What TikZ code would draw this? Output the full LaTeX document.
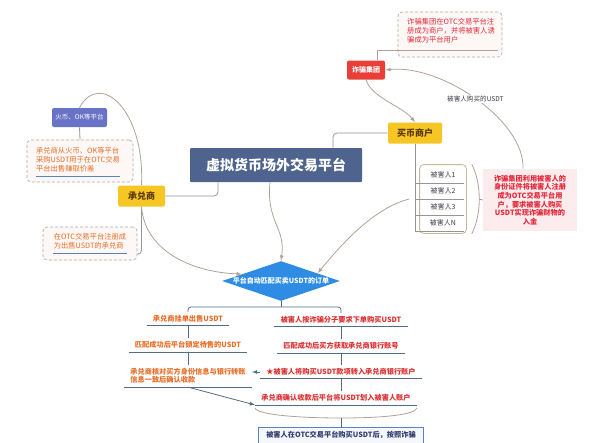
\documentclass[tikz,border=0pt]{standalone}
\usepackage{fontspec}
\setmainfont{Noto Sans CJK SC}
\usetikzlibrary{shapes.geometric,fit}

\definecolor{platblue}{RGB}{78,100,143}
\definecolor{fraudred}{RGB}{232,64,56}
\definecolor{tagyellow}{RGB}{246,198,36}
\definecolor{tagbrown}{RGB}{90,55,10}
\definecolor{tagpurple}{RGB}{104,114,198}
\definecolor{matchblue}{RGB}{46,140,228}
\definecolor{linkgray}{RGB}{150,150,150}
\definecolor{linktan}{RGB}{178,162,150}
\definecolor{notegray}{RGB}{170,170,170}
\definecolor{notefill}{RGB}{253,248,245}
\definecolor{noteorange}{RGB}{232,108,40}
\definecolor{notered}{RGB}{228,40,58}
\definecolor{pinkfill}{RGB}{253,236,238}
\definecolor{groupsand}{RGB}{205,180,154}
\definecolor{darktext}{RGB}{60,60,70}
\definecolor{flowslate}{RGB}{80,108,135}
\definecolor{floworange}{RGB}{232,110,40}
\definecolor{flowred}{RGB}{218,48,50}
\definecolor{flowblue}{RGB}{90,130,190}
\definecolor{finalfill}{RGB}{244,247,251}
\definecolor{finaltext}{RGB}{50,60,110}

\begin{document}
\begin{tikzpicture}[
 x=1pt,y=-1pt,
 thick,
 >={latex},
 align=center,
 inner sep=1mm,
 main/.style={rectangle,rounded corners=1pt,fill=platblue,text=white,minimum width=172pt,minimum height=34pt,font=\bfseries\fontsize{14}{16}\selectfont},
 redtag/.style={rectangle,rounded corners=2pt,fill=fraudred,text=white,minimum width=38pt,minimum height=19pt,inner sep=0pt,font=\bfseries\fontsize{7}{8}\selectfont},
 yellowtag/.style={rectangle,rounded corners=2pt,fill=tagyellow,text=tagbrown,minimum height=21pt,inner sep=0pt,font=\bfseries\fontsize{9}{10}\selectfont},
 purpletag/.style={rectangle,rounded corners=2pt,fill=tagpurple,text=white,minimum width=55pt,minimum height=19pt,inner sep=0pt,font=\fontsize{6.5}{7.5}\selectfont},
 notebox/.style={draw=notegray,densely dashed,line width=0.6pt,rounded corners=4pt,fill=notefill},
 notetext/.style={align=left,inner sep=0pt,font=\fontsize{7.3}{9}\selectfont},
 pinknote/.style={rectangle,fill=pinkfill,text=notered,minimum width=94pt,minimum height=62pt,inner sep=2pt,font=\bfseries\fontsize{7.2}{8.7}\selectfont},
 victim/.style={rectangle,minimum width=42pt,minimum height=16pt,inner sep=0pt,text=darktext,font=\fontsize{7}{8}\selectfont},
 victimgroup/.style={draw=groupsand,rounded corners=4pt,inner sep=2pt},
 decision/.style={diamond,aspect=2.95,fill=matchblue,text=white,inner sep=0pt,minimum width=118pt,minimum height=40pt,font=\bfseries\fontsize{7}{8}\selectfont},
 flowleft/.style={text=floworange,inner xsep=6pt,inner ysep=3pt,font=\bfseries\fontsize{7.2}{8.4}\selectfont},
 flowright/.style={flowleft,text=flowred},
 final/.style={draw=flowblue,fill=finalfill,text=finaltext,anchor=north,inner xsep=8pt,inner ysep=4pt,text depth=12pt,font=\bfseries\fontsize{7.2}{8.4}\selectfont},
 conn/.style={draw=linkgray,rounded corners=4pt},
 arc-link/.style={draw=linktan},
 flowline/.style={draw=flowslate},
 noteline/.style={draw=flowblue},
 lbl/.style={fill=white,inner sep=1pt,text=darktext,font=\fontsize{6.6}{7.5}\selectfont}
]
\useasboundingbox (0,0) rectangle (600,442);
\fill[white] (0,0) rectangle (600,442);

\node (platform-box) [main] at (276,165) {虚拟货币场外交易平台};
\node (fraud-box) [redtag] at (366,70) {诈骗集团};
\node (buyer-box) [yellowtag,minimum width=54pt] at (415,133) {买币商户};
\node (acceptor-box) [yellowtag,minimum width=47pt] at (141.5,196) {承兑商};
\node (exchange-box) [purpletag] at (79.5,117.5) {火币、OK等平台};

\node (fraud-note) [notebox,minimum width=104pt,minimum height=45pt] at (450,34.5) {};
\node (fraud-text) [notetext,text=notered] at (451,31) {诈骗集团在OTC交易平台注\\册成为商户，并将被害人诱\\骗成为平台用户};
\node (source-note) [notebox,minimum width=106pt,minimum height=42pt] at (80,161) {};
\node (source-text) [notetext,text=noteorange] at (78,160) {承兑商从火币、OK等平台\\采购USDT用于在OTC交易\\平台出售赚取价差};
\node (register-note) [notebox,minimum width=94pt,minimum height=33pt] at (90,243.5) {};
\node (register-text) [notetext,text=noteorange] at (90,241.5) {在OTC交易平台注册成\\为出售USDT的承兑商};

\foreach \lab [count=\k] in {1,2,3,N}
  \node (victim-\k) [victim] at (443,159+16*\k) {被害人\lab};
\node (victim-group) [victimgroup,fit=(victim-1)(victim-4)] {};
\node (victim-note) [pinknote] at (530,200) {诈骗集团利用被害人的\\身份证件将被害人注册\\成为OTC交易平台用\\户，要求被害人购买\\USDT实现诈骗财物的\\入金};

\node (match-box) [decision] at (281,281) {平台自动匹配买卖USDT的订单};

\node (left-1) [flowleft] at (188,319) {承兑商挂单出售USDT};
\node (left-2) [flowleft] at (188,345) {匹配成功后平台锁定待售的USDT};
\node (left-3) [flowleft,align=left] at (188,376) {承兑商核对买方身份信息与银行转账\\信息一致后确认收款};
\node (right-1) [flowright] at (341,320) {被害人按诈骗分子要求下单购买USDT};
\node (right-2) [flowright] at (341,346) {匹配成功后买方获取承兑商银行账号};
\node (right-3) [flowright] at (341,372) {★被害人将购买USDT款项转入承兑商银行账户};
\node (right-4) [flowright] at (336,398) {承兑商确认收款后平台将USDT划入被害人账户};
\node (final-box) [final] at (341,427) {被害人在OTC交易平台购买USDT后，按照诈骗};

\draw[arc-link] ([xshift=11pt]fraud-box.north) |- ([shift={(-4pt,7pt)}]fraud-note.south east);
\draw[arc-link,->] (fraud-box.south) .. controls (372,98) and (402,106) .. (buyer-box.north);
\draw[arc-link,->] ([xshift=-7pt]victim-note.north) .. controls (525,120) and (440,64) .. (fraud-box.east)
  node[lbl,pos=0.5] {被害人购买的USDT};
\draw[conn] ([xshift=57pt]platform-box.north) |- (buyer-box.west);
\draw[conn] ([xshift=-58pt]platform-box.south) |- (acceptor-box.east);

\draw[conn,rounded corners=0pt] (buyer-box.south) |- (victim-4.south east);
\foreach \k in {1,2,3}
  \draw[conn] (victim-\k.south east) -- (victim-\k.south east -| buyer-box.south);
\draw[arc-link] ([xshift=5pt]victim-group.north east) .. controls +(10,20) and +(10,-20) .. ([xshift=5pt]victim-group.south east);
\draw[conn] ([xshift=12.5pt]victim-group.east) -- (victim-note.west);

\draw[arc-link] (acceptor-box.north) .. controls (145,110) and (100,70) .. (exchange-box.north);
\draw[conn] (exchange-box.south) -- (source-note.north);
\draw[conn] (acceptor-box.south) |- ([yshift=6pt]register-note.south east);
\draw[noteline] ([yshift=-4pt]source-text.south west) -- ([yshift=-4pt]source-text.south east);
\draw[noteline] ([yshift=-4pt]register-text.south west) -- ([yshift=-4pt]register-text.south east);

\draw[arc-link,->] (acceptor-box.south) .. controls (145,250) and (190,272) .. (match-box.170);
\draw[arc-link,->] ([xshift=-6pt]platform-box.south) .. controls (266,222) and (286,228) .. (match-box.north);
\draw[arc-link,->] ([xshift=-10pt]victim-group.west) .. controls (375,208) and (345,240) .. (match-box.12);

\coordinate (split) at (281,307);
\draw[flowline] (match-box.south) -- (split);
\draw[flowline,rounded corners=3pt] (left-1.north) |- (split) -| (right-1.north);
\foreach \n in {left-1,left-2,left-3,right-1,right-2,right-3,right-4}
  \draw[flowline] (\n.south west) -- (\n.south east);
\foreach \a/\b in {left-1/left-2,left-2/left-3,right-1/right-2,right-2/right-3,right-3/right-4}
  \draw[flowline] (\a.south) -- (\a.south |- \b.north);
\draw[flowline,->] (right-3.west) -- (right-3.west -| left-3.east);
\draw[flowline,->] (left-3.south) -- (right-4.south west);

\coordinate (brace-mid) at (341,418);
\draw[arc-link] ([yshift=-3pt]right-4.south west) .. controls +(2,7) and (300,418) .. (brace-mid)
  .. controls (382,418) and +(-2,7) .. ([yshift=-3pt]right-4.south east);
\draw[flowline] (brace-mid) -- (final-box.north);
\end{tikzpicture}
\end{document}
